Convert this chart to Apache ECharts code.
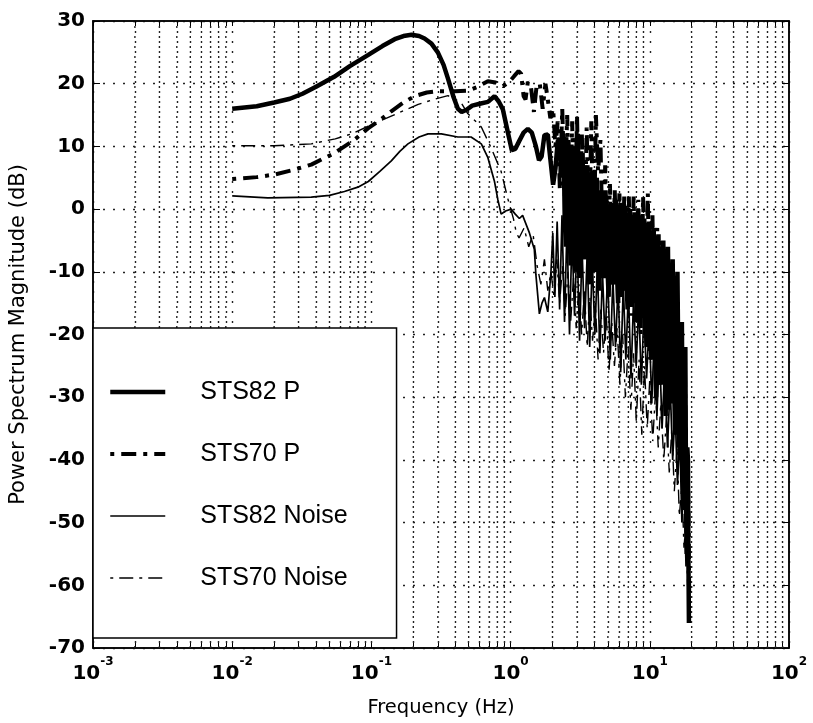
<!DOCTYPE html>
<html><head><meta charset="utf-8">
<script src="https://cdn.jsdelivr.net/npm/echarts@6/dist/echarts.min.js"></script>
<style>html,body{margin:0;padding:0;background:#fff}#c{width:813px;height:723px}</style>
</head><body><div id="c"></div>
<script>
// ---- data (frequency Hz, magnitude dB) ----
const seriesNames = ['STS82 P', 'STS70 P', 'STS82 Noise', 'STS70 Noise'];
const yTicks = [-70, -60, -50, -40, -30, -20, -10, 0, 10, 20, 30];
const xMajorTicks = [0.001, 0.01, 0.1, 1, 10, 100];
const xTickExponents = ['-3', '-2', '-1', '0', '1', '2'];
const minorMultipliers = [2, 3, 4, 5, 6, 7, 8, 9];

const sts82P = [
[0.010,16.0],[0.015,16.4],[0.020,17.0],[0.026,17.6],[0.032,18.4],[0.040,19.5],[0.054,21.1],[0.070,22.8],[0.095,24.6],[0.12,26.0],[0.147,27.1],[0.17,27.6],[0.194,27.8],[0.22,27.6],[0.241,27.2],[0.27,26.4],[0.30,25.0],[0.33,23.0],[0.355,20.8],[0.39,17.8],[0.418,16.0],[0.445,15.5],[0.48,15.8],[0.53,16.5],[0.60,16.8],[0.687,17.1],[0.766,18.0],[0.82,17.2],[0.88,15.9],[0.95,12.5],[1.02,9.4],[1.08,9.6],[1.15,10.8],[1.24,12.2],[1.33,12.8],[1.42,12.2],[1.52,10.0],[1.60,7.8],[1.67,8.4],[1.75,11.8],[1.85,11.9],[1.93,8.0],[2.02,3.9],[2.10,6.5],[2.18,10.8],[2.25,11.3],[2.32,5.0],
[2.40,12],[2.45,-2],[2.50,-6],[2.55,10],[2.60,11],[2.65,-3],[2.70,-9],[2.76,8],[2.81,10],[2.86,-5],[2.92,-10],[2.98,9],[3.04,12],[3.10,0],[3.16,-11],[3.22,6],[3.29,9],[3.35,-4],[3.42,-8],[3.49,5],[3.56,7],[3.63,-6],[3.70,-12],[3.77,3],[3.85,6],[3.92,-8],[4.00,-10],[4.08,2],[4.16,5],[4.24,-6],[4.33,-13],[4.41,0],[4.50,3],[4.59,-7],[4.68,-11],[4.77,-1],[4.87,2],[4.96,-9],[5.06,-14],[5.16,-2],[5.27,1],[5.37,-8],[5.48,-12],[5.59,-3],[5.70,1.5],[5.81,-10],[5.92,-15],[6.04,-3],[6.16,1],[6.28,-9],[6.41,-13],[6.53,-4],[6.66,0.5],[6.79,-11],[6.93,-16],[7.07,-5],[7.21,0],[7.35,-10],[7.50,-15],[7.65,-6],[7.80,-0.5],[7.95,-12],[8.11,-18],[8.27,-7],[8.43,-1],[8.60,-13],[8.77,-17],[8.94,-8],[9.12,-1.5],[9.30,-15],[9.49,-22],[9.68,-10],[9.87,-2],[10.06,-16],[10.26,-24],[10.46,-12],[10.67,-3],[10.88,-20],[11.10,-30],[11.32,-14],[11.54,-4],[11.77,-19],[12.0,-28],[12.25,-16],[12.5,-5],[12.75,-22],[13.0,-33],[13.25,-18],[13.5,-6],[13.75,-24],[14.0,-31],[14.3,-20],[14.6,-8],[14.9,-26],[15.2,-36],[15.5,-22],[15.8,-10],[16.1,-30],[16.4,-40],[16.7,-25],[17.0,-18],[17.25,-38],[17.5,-48],[17.75,-30],[18.0,-22],[18.2,-44],[18.4,-55],[18.6,-38],[18.8,-40],[18.95,-56],[19.1,-66]
];

const sts70P = [
[0.010,4.8],[0.015,5.1],[0.020,5.5],[0.027,6.2],[0.037,7.1],[0.054,8.9],[0.075,11.0],[0.095,12.9],[0.12,14.5],[0.139,15.6],[0.17,17.0],[0.204,18.0],[0.25,18.6],[0.30,18.8],[0.40,18.8],[0.493,18.9],[0.58,19.5],[0.687,20.4],[0.78,20.2],[0.88,19.6],[0.97,20.2],[1.06,21.2],[1.14,22.0],[1.19,21.6],[1.24,18.0],[1.28,17.5],[1.33,20.3],[1.40,19.5],[1.47,15.5],[1.54,19.8],[1.62,20.0],[1.70,16.0],[1.78,20.0],[1.85,17.5],[1.93,14.5],[2.02,16.0],[2.10,10.0],[2.18,14.0],
[2.26,3],[2.35,16],[2.45,2],[2.55,15],[2.66,-4],[2.77,14],[2.88,-6],[3.00,15],[3.12,-5],[3.25,12],[3.38,-8],[3.52,13],[3.66,-6],[3.80,14],[3.95,-9],[4.10,15],[4.25,6],[4.42,11],[4.60,-8],[4.78,7],[4.97,-10],[5.17,4],[5.38,-12],[5.60,3],[5.82,-11],[6.05,2.5],[6.30,-14],[6.55,2],[6.80,-13],[7.07,2],[7.35,-17],[7.65,2],[7.95,-15],[8.27,1.5],[8.60,-20],[8.95,2],[9.30,-18],[9.68,2.5],[10.05,-24],[10.45,-1],[10.87,-22],[11.3,-3],[11.75,-28],[12.2,-5],[12.7,-26],[13.2,-6.5],[13.7,-32],[14.3,-9],[14.9,-30],[15.5,-11],[16.1,-38],[16.7,-18],[17.3,-45],[17.9,-26],[18.5,-55],[18.9,-45],[19.2,-62]
];

const sts82Noise = [
[0.010,2.1],[0.018,1.8],[0.037,1.9],[0.050,2.2],[0.064,2.8],[0.080,3.5],[0.095,4.4],[0.115,6.0],[0.139,7.7],[0.16,9.2],[0.183,10.4],[0.22,11.5],[0.255,12.0],[0.318,12.0],[0.418,11.5],[0.52,11.5],[0.616,10.4],[0.687,8.2],[0.766,4.4],[0.81,1.5],[0.855,-0.8],[0.92,-0.3],[1.01,0.0],[1.08,-0.8],[1.156,-1.5],[1.22,-1.0],[1.365,-3.8],[1.48,-6.4],[1.52,-10.5],[1.61,-16.7],[1.68,-15.0],[1.75,-14.1],[1.85,-16.4],[1.95,-10.0],[2.01,-3.8],
[2.08,-14],[2.16,-2],[2.25,-16],[2.34,-1],[2.44,-18],[2.54,-3],[2.65,-20],[2.76,-4],[2.88,-17],[3.00,-5],[3.13,-21],[3.26,-6],[3.40,-19],[3.55,-7],[3.70,-22],[3.86,-8],[4.03,-20],[4.20,-9],[4.38,-23],[4.57,-10],[4.77,-21],[4.98,-10],[5.20,-24],[5.43,-11],[5.67,-22],[5.92,-12],[6.18,-26],[6.45,-12],[6.73,-24],[7.02,-13],[7.33,-27],[7.65,-14],[7.98,-25],[8.33,-15],[8.70,-28],[9.08,-16],[9.48,-27],[9.90,-18],[10.33,-31],[10.78,-20],[11.25,-33],[11.74,-22],[12.25,-35],[12.8,-25],[13.4,-38],[14.0,-28],[14.6,-40],[15.2,-32],[15.8,-44],[16.4,-36],[17.0,-50],[17.6,-42],[18.2,-57],[18.7,-50],[19.0,-64]
];

const sts70Noise = [
[0.010,10.1],[0.020,10.1],[0.037,10.4],[0.055,11.2],[0.072,12.0],[0.106,13.7],[0.155,15.3],[0.217,16.7],[0.28,17.5],[0.355,18.1],[0.44,17.0],[0.49,15.3],[0.616,13.1],[0.72,9.9],[0.855,6.0],[0.954,1.7],[1.05,-1.6],[1.10,-3.8],[1.15,-4.6],[1.25,-3.0],[1.35,-6.0],[1.45,-4.0],[1.55,-9.0],[1.65,-12.0],[1.75,-8.0],[1.85,-13.0],[1.95,-10.0],[2.05,-14.0],
[2.15,-8],[2.25,-15],[2.36,-9],[2.47,-17],[2.58,-10],[2.70,-18],[2.83,-11],[2.96,-19],[3.10,-12],[3.24,-20],[3.39,-13],[3.55,-22],[3.71,-14],[3.88,-21],[4.06,-15],[4.25,-24],[4.45,-16],[4.65,-23],[4.87,-17],[5.09,-26],[5.33,-18],[5.57,-25],[5.83,-19],[6.10,-28],[6.38,-20],[6.68,-30],[6.99,-22],[7.31,-32],[7.65,-23],[8.00,-34],[8.37,-24],[8.76,-36],[9.16,-25],[9.58,-35],[10.0,-27],[10.5,-37],[11.0,-29],[11.5,-38],[12.0,-31],[12.6,-40],[13.2,-33],[13.8,-42],[14.4,-35],[15.0,-45],[15.7,-38],[16.3,-49],[17.0,-44],[17.6,-54],[18.2,-50],[18.7,-60],[19.0,-63]
];

// ---- line styles per series ----
const styleOf = {
  'STS82 P':     { width: 4.5, type: 'solid' },
  'STS70 P':     { width: 4,   type: [4, 7, 15, 7] },
  'STS82 Noise': { width: 1.7, type: 'solid' },
  'STS70 Noise': { width: 1.4, type: [3, 6, 14, 6] }
};

// ---- minor grid (vertical dotted lines at 2..9 x 10^k) ----
const minorFreqs = [];
xMajorTicks.slice(0, 5).forEach(d => minorMultipliers.forEach(m => minorFreqs.push(+(d * m).toPrecision(3))));
const minorGridData = [];
minorFreqs.forEach(f => { minorGridData.push([f, -70], [f, 30], [f, '-']); });
const allXTicks = xMajorTicks.concat(minorFreqs);

const dotted = { type: [2, 8], color: '#222', width: 1.4 };
const tickFont = 'DejaVu Sans';
const chart = echarts.init(document.getElementById('c'), null, { renderer: 'canvas' });

function mkSeries(name, data, z) {
  const s = styleOf[name];
  return { name: name, type: 'line', data: data, symbol: 'none', z: z,
    itemStyle: { color: '#000' }, lineStyle: { color: '#000', width: s.width, type: s.type } };
}

chart.setOption({
  backgroundColor: '#fff',
  animation: false,
  color: ['#000'],
  grid: { left: 91, top: 21, width: 698, height: 629, show: true, borderColor: '#000', borderWidth: 1.5, backgroundColor: 'transparent' },
  xAxis: [{
    type: 'log', logBase: 10, min: 0.001, max: 100,
    name: 'Frequency (Hz)', nameLocation: 'middle', nameGap: 50,
    nameTextStyle: { fontFamily: 'DejaVu Sans', fontSize: 19.5, color: '#000' },
    axisLine: { show: true, onZero: false, lineStyle: { color: '#000', width: 1.5 } },
    axisTick: { show: true, inside: true, length: 5, customValues: allXTicks, lineStyle: { color: '#000' } },
    splitLine: { show: true, lineStyle: dotted },
    axisLabel: {
      margin: 8, color: '#000', customValues: xMajorTicks,
      formatter: function (v) {
        const e = Math.round(Math.log10(v));
        return '{b|10}{s|' + xTickExponents[e + 3] + '}';
      },
      rich: {
        b: { fontFamily: tickFont, fontWeight: 'bold', fontSize: 20, lineHeight: 28, verticalAlign: 'bottom', color: '#000' },
        s: { fontFamily: tickFont, fontWeight: 'bold', fontSize: 12, lineHeight: 28, verticalAlign: 'top', color: '#000' }
      }
    }
  }, {
    type: 'log', logBase: 10, min: 0.001, max: 100, position: 'top',
    axisLine: { show: true, onZero: false, lineStyle: { color: '#000', width: 1.5 } },
    axisTick: { show: true, inside: true, length: 5, customValues: allXTicks, lineStyle: { color: '#000' } },
    axisLabel: { show: false }, splitLine: { show: false }
  }],
  yAxis: [{
    type: 'value', min: -70, max: 30, interval: 10,
    name: 'Power Spectrum Magnitude (dB)', nameLocation: 'middle', nameGap: 64, nameRotate: 90,
    nameTextStyle: { fontFamily: 'DejaVu Sans', fontSize: 21, color: '#000' },
    axisLine: { show: true, onZero: false, lineStyle: { color: '#000', width: 1.5 } },
    axisTick: { show: true, inside: true, length: 7, lineStyle: { color: '#000' } },
    splitLine: { show: true, lineStyle: dotted },
    axisLabel: {
      margin: 8, color: '#000', fontFamily: tickFont, fontWeight: 'bold', fontSize: 20,
      formatter: function (v) { return yTicks.indexOf(v) >= 0 ? String(v) : ''; }
    }
  }, {
    type: 'value', min: -70, max: 30, interval: 10, position: 'right',
    axisLine: { show: true, onZero: false, lineStyle: { color: '#000', width: 1.5 } },
    axisTick: { show: true, inside: true, length: 7, lineStyle: { color: '#000' } },
    axisLabel: { show: false }, splitLine: { show: false }
  }],
  legend: {
    data: seriesNames.map(n => ({ name: n, lineStyle: { width: styleOf[n].width, type: styleOf[n].type, color: '#000' } })),
    orient: 'vertical', left: 93, top: 328,
    padding: [51, 49, 47, 15], itemGap: 36, itemWidth: 55, itemHeight: 26,
    backgroundColor: '#fff', borderColor: '#000', borderWidth: 1.5, borderRadius: 0,
    selectedMode: false,
    itemStyle: { color: 'rgba(0,0,0,0)', borderColor: 'rgba(0,0,0,0)', borderWidth: 0 },
    textStyle: { fontFamily: 'Liberation Sans', fontSize: 25, color: '#000', padding: [0, 0, 0, 30], lineHeight: 26 }
  },
  series: [
    { name: 'minor grid', type: 'line', data: minorGridData, symbol: 'none', silent: true,
      connectNulls: false, z: 1, lineStyle: dotted, itemStyle: { color: '#222' } },
    mkSeries('STS70 Noise', sts70Noise, 3),
    mkSeries('STS82 Noise', sts82Noise, 4),
    mkSeries('STS70 P', sts70P, 5),
    mkSeries('STS82 P', sts82P, 6)
  ]
});
</script></body></html>
